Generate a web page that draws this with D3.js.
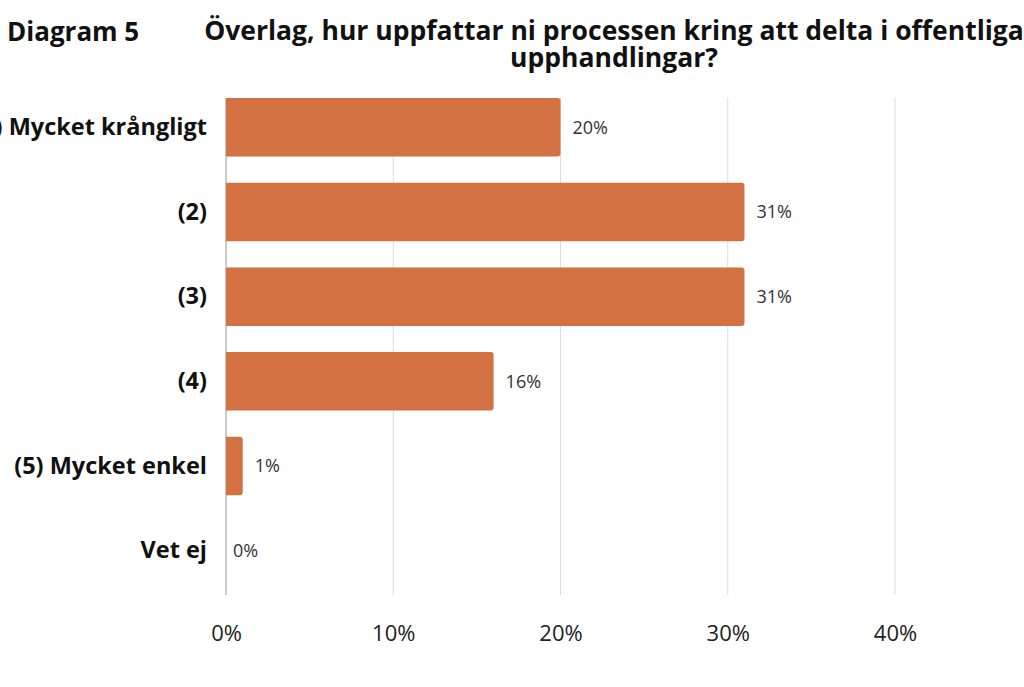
<!DOCTYPE html>
<html>
<head>
<meta charset="utf-8">
<script src="https://cdn.jsdelivr.net/npm/d3@7"></script>
<style>
  body { margin: 0; background: #fff; overflow: hidden; }
  text { font-family: "Open Sans", sans-serif; }
</style>
</head>
<body>
<div class="chart"></div>
<script>

// data
const categories = ["(1) Mycket krångligt", "(2)", "(3)", "(4)", "(5) Mycket enkel", "Vet ej"]
const values = [20, 31, 31, 16, 1, 0]
const xTicks = [0, 10, 20, 30, 40]

const titleLeft = "Diagram 5"
const titleLines = ["Överlag, hur uppfattar ni processen kring att delta i offentliga", "upphandlingar?"]

// layout
const W = 1024, H = 687
const margin = ({ top: 85, right: 129, bottom: 94, left: 226 })
const width = 1024 - margin.left - margin.right,  // 0..40% spans 669px
    height = H - margin.top - margin.bottom;

let svg = d3.select(".chart").append("svg")
    .attr("width", W)
    .attr("height", H)

svg.append("text")
    .attr("x", 7)
    .attr("y", 41)
    .attr("font-size", 26)
    .attr("font-weight", 700)
    .attr("fill", "#111")
    .text(titleLeft)

svg.selectAll(".title")
    .data(titleLines)
    .join("text")
    .attr("class", "title")
    .attr("x", 614)
    .attr("y", (d, i) => 40 + i * 27)
    .attr("text-anchor", "middle")
    .attr("font-size", 26.5)
    .attr("font-weight", 700)
    .attr("fill", "#111")
    .text(d => d)

let g = svg.append("g")
    .attr("transform", "translate(" + margin.left + "," + margin.top + ")");

let xScale = d3.scaleLinear()
    .domain([0, 40])
    .range([0, width])

let yScale = d3.scaleBand()
    .domain(categories)
    .range([0, height])
    .paddingInner(0.31)
    .paddingOuter(0.155)

// gridlines
const gridTop = yScale(categories[0]), gridBottom = 510
g.selectAll(".grid")
    .data(xTicks)
    .join("line")
    .attr("class", "grid")
    .attr("x1", d => xScale(d))
    .attr("x2", d => xScale(d))
    .attr("y1", gridTop)
    .attr("y2", gridBottom)
    .attr("stroke", d => d === 0 ? "#b8b8b8" : "#dcdcdc")
    .attr("stroke-width", d => d === 0 ? 1.5 : 1)

// bars: rounded on the right end only
const bars = categories.map((c, i) => ({ cat: c, v: values[i] }))

g.selectAll(".bar")
    .data(bars.filter(d => d.v > 0))
    .join("path")
    .attr("class", "bar")
    .attr("fill", "#d37143")
    .attr("d", d => {
        const x0 = xScale(0), x1 = xScale(d.v), y0 = yScale(d.cat), h = yScale.bandwidth()
        const r = Math.min(3, (x1 - x0) / 2)
        return `M${x0},${y0}H${x1 - r}Q${x1},${y0} ${x1},${y0 + r}V${y0 + h - r}Q${x1},${y0 + h} ${x1 - r},${y0 + h}H${x0}Z`
    })

// value labels
g.selectAll(".val")
    .data(bars)
    .join("text")
    .attr("class", "val")
    .attr("x", d => xScale(d.v) + (d.v > 0 ? 12 : 7))
    .attr("y", d => yScale(d.cat) + yScale.bandwidth() / 2)
    .attr("dy", "0.35em")
    .attr("font-size", 18)
    .attr("fill", "#333")
    .text(d => d.v + "%")

// category labels
let yAxis = d3.axisLeft(yScale).tickSize(0).tickPadding(19)
g.append("g")
    .attr("class", "axis y-axis")
    .call(yAxis)
    .call(a => a.select(".domain").remove())
    .selectAll("text")
    .attr("font-size", 23.5)
    .attr("font-weight", 700)
    .attr("font-family", "Open Sans, sans-serif")
    .attr("fill", "#111")

// x axis
let xAxis = d3.axisBottom(xScale)
    .tickValues(xTicks)
    .tickSize(0)
    .tickPadding(30)
    .tickFormat(d => d + "%")
g.append("g")
    .attr("class", "axis x-axis")
    .attr("transform", `translate(0, ${gridBottom})`)
    .call(xAxis)
    .call(a => a.select(".domain").remove())
    .selectAll("text")
    .attr("font-size", 22)
    .attr("font-family", "Open Sans, sans-serif")
    .attr("fill", "#222")

</script>
</body>
</html>
